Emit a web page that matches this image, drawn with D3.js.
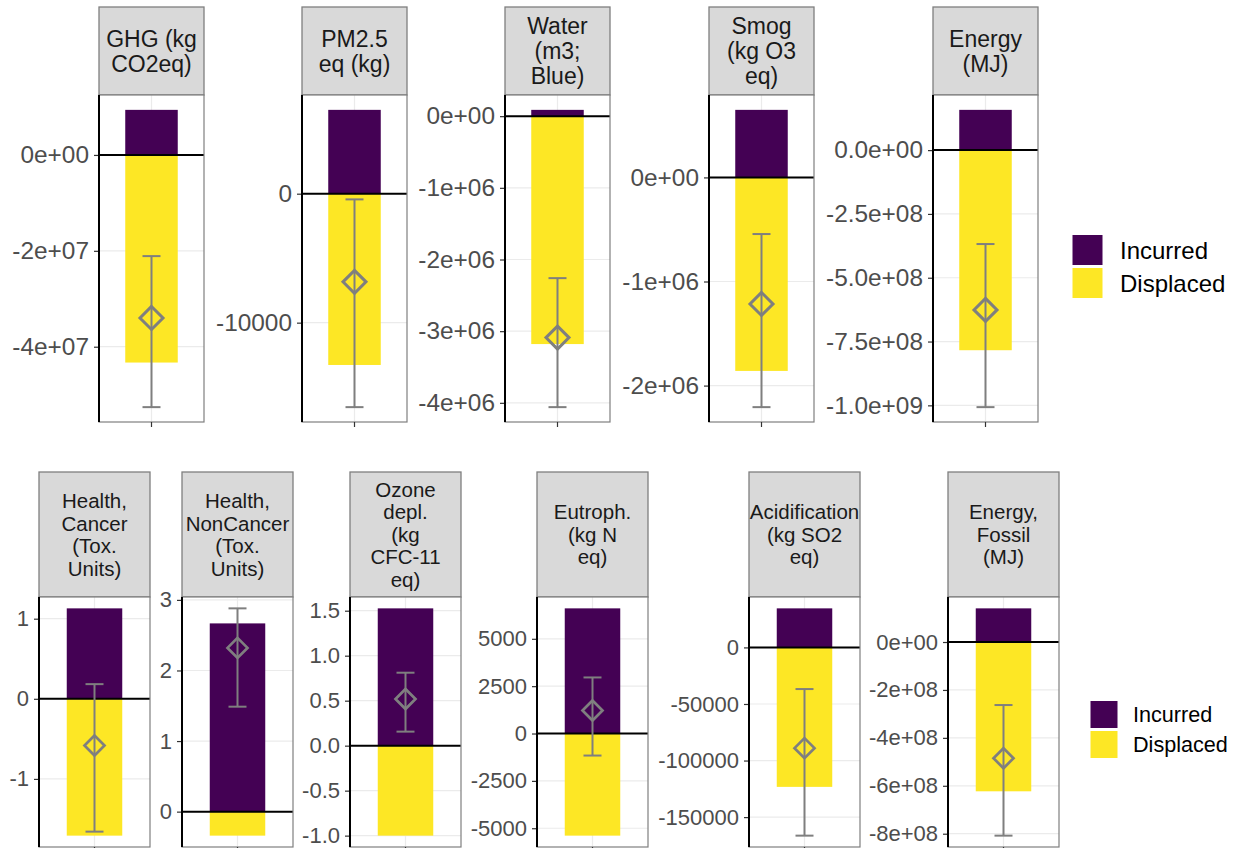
<!DOCTYPE html>
<html>
<head>
<meta charset="utf-8">
<script src="https://cdn.jsdelivr.net/npm/d3@7"></script>
<style>
  html, body { margin: 0; padding: 0; background: #fff; }
  svg { display: block; font-family: "Liberation Sans", Arial, sans-serif; }
</style>
</head>
<body>
<svg id="chart" width="1239" height="848"></svg>
<script>
// ---------------- DATA ----------------
const topCategories = ["GHG (kg\nCO2eq)", "PM2.5\neq (kg)", "Water\n(m3;\nBlue)", "Smog\n(kg O3\neq)", "Energy\n(MJ)"];
const topIncurred  = [9.4e6, 6500, 8.8e4, 6.49e5, 1.577e8];
const topDisplaced = [-4.33e7, -13280, -3.18e6, -1.859e6, -7.84e8];
const topNet       = [-3.40e7, -6836, -3.09e6, -1.216e6, -6.26e8];
const topErrLow    = [-5.26e7, -16550, -4.06e6, -2.207e6, -1.007e9];
const topErrHigh   = [-2.11e7, -441, -2.26e6, -5.44e5, -3.68e8];
const topTickValues = [
  [0, -2e7, -4e7],
  [0, -10000],
  [0, -1e6, -2e6, -3e6, -4e6],
  [0, -1e6, -2e6],
  [0, -2.5e8, -5e8, -7.5e8, -1e9]
];
const topTickLabels = [
  ["0e+00", "-2e+07", "-4e+07"],
  ["0", "-10000"],
  ["0e+00", "-1e+06", "-2e+06", "-3e+06", "-4e+06"],
  ["0e+00", "-1e+06", "-2e+06"],
  ["0.0e+00", "-2.5e+08", "-5.0e+08", "-7.5e+08", "-1.0e+09"]
];

const bottomCategories = ["Health,\nCancer\n(Tox.\nUnits)", "Health,\nNonCancer\n(Tox.\nUnits)", "Ozone\ndepl.\n(kg\nCFC-11\neq)", "Eutroph.\n(kg N\neq)", "Acidification\n(kg SO2\neq)", "Energy,\nFossil\n(MJ)"];
const bottomIncurred  = [1.129, 2.667, 1.526, 6607, 34513, 1.404e8];
const bottomDisplaced = [-1.708, -0.34, -1.0, -5391, -123270, -6.23e8];
const bottomNet       = [-0.583, 2.32, 0.519, 1216, -89030, -4.85e8];
const bottomErrLow    = [-1.658, 1.487, 0.156, -1163, -166370, -8.08e8];
const bottomErrHigh   = [0.183, 2.88, 0.811, 2960, -36810, -2.63e8];
const bottomTickValues = [
  [1, 0, -1],
  [3, 2, 1, 0],
  [1.5, 1, 0.5, 0, -0.5, -1],
  [5000, 2500, 0, -2500, -5000],
  [0, -50000, -100000, -150000],
  [0, -2e8, -4e8, -6e8, -8e8]
];
const bottomTickLabels = [
  ["1", "0", "-1"],
  ["3", "2", "1", "0"],
  ["1.5", "1.0", "0.5", "0.0", "-0.5", "-1.0"],
  ["5000", "2500", "0", "-2500", "-5000"],
  ["0", "-50000", "-100000", "-150000"],
  ["0e+00", "-2e+08", "-4e+08", "-6e+08", "-8e+08"]
];

const legendLabels = ["Incurred", "Displaced"];
const legendColors = ["#440154", "#FDE725"];

// ---------------- LAYOUT ----------------
const svg = d3.select("#chart");
const color = d3.scaleOrdinal().domain(legendLabels).range(legendColors);

const rows = [
  {
    cats: topCategories, inc: topIncurred, dis: topDisplaced, net: topNet, lo: topErrLow, hi: topErrHigh,
    ticks: topTickValues, labels: topTickLabels,
    xs: [99, 302, 505, 709, 933], w: 105,
    stripTop: 7, panelTop: 95, panelBottom: 422,
    stripFont: 23, lineH: 25, tickFont: 24.4, capW: 18, diamond: 11.5, diamondStroke: 3,
    legend: { x: 1072, y: 234.5, key: 31, font: 24, tx: 1120 }
  },
  {
    cats: bottomCategories, inc: bottomIncurred, dis: bottomDisplaced, net: bottomNet, lo: bottomErrLow, hi: bottomErrHigh,
    ticks: bottomTickValues, labels: bottomTickLabels,
    xs: [39, 182, 350, 537, 749, 948], w: 111,
    stripTop: 472, panelTop: 597, panelBottom: 847,
    stripFont: 20.5, lineH: 22.5, tickFont: 22, capW: 18, diamond: 10, diamondStroke: 2.7,
    legend: { x: 1090, y: 700.5, key: 28, font: 21.6, tx: 1133 }
  }
];

rows.forEach(row => {
  row.cats.forEach((cat, i) => {
    const x0 = row.xs[i], w = row.w;
    const g = svg.append("g");

    const dmax = Math.max(row.inc[i], row.hi[i], 0);
    const dmin = Math.min(row.dis[i], row.lo[i], 0);
    const pad = (dmax - dmin) * 0.05;
    const y = d3.scaleLinear().domain([dmin - pad, dmax + pad]).range([row.panelBottom, row.panelTop]);
    const x = d3.scaleBand().domain([cat]).range([x0, x0 + w]).paddingInner(0).paddingOuter(0.5);
    const cx = x(cat) + x.bandwidth() / 2;

    // strip
    g.append("rect")
      .attr("x", x0).attr("y", row.stripTop)
      .attr("width", w).attr("height", row.panelTop - row.stripTop)
      .attr("fill", "#d9d9d9").attr("stroke", "#7f7f7f").attr("stroke-width", 1.3);
    const lines = cat.split("\n");
    const cy = (row.stripTop + row.panelTop) / 2;
    g.append("text")
      .attr("text-anchor", "middle")
      .attr("font-size", row.stripFont)
      .attr("fill", "#1a1a1a")
      .selectAll("tspan").data(lines).join("tspan")
      .attr("x", x0 + w / 2)
      .attr("y", (d, k) => cy + (k - (lines.length - 1) / 2) * row.lineH + row.stripFont * 0.36)
      .text(d => d);

    // panel background
    g.append("rect").attr("x", x0).attr("y", row.panelTop)
      .attr("width", w).attr("height", row.panelBottom - row.panelTop).attr("fill", "#fff");

    // grid
    g.append("g").selectAll("line").data(row.ticks[i]).join("line")
      .attr("x1", x0).attr("x2", x0 + w)
      .attr("y1", d => y(d)).attr("y2", d => y(d))
      .attr("stroke", "#ebebeb").attr("stroke-width", 1.2);
    g.append("line").attr("x1", cx).attr("x2", cx)
      .attr("y1", row.panelTop).attr("y2", row.panelBottom)
      .attr("stroke", "#ebebeb").attr("stroke-width", 1.2);

    // bars
    const bars = [
      { k: "Incurred", v: row.inc[i] },
      { k: "Displaced", v: row.dis[i] }
    ];
    g.append("g").selectAll("rect").data(bars).join("rect")
      .attr("x", x(cat)).attr("width", x.bandwidth())
      .attr("y", d => y(Math.max(0, d.v)))
      .attr("height", d => Math.abs(y(d.v) - y(0)))
      .attr("fill", d => color(d.k));

    // zero line
    g.append("line").attr("x1", x0).attr("x2", x0 + w)
      .attr("y1", y(0)).attr("y2", y(0))
      .attr("stroke", "#000").attr("stroke-width", 2);

    // error bar
    const eg = g.append("g").attr("stroke", "#7f7f7f").attr("stroke-width", 2).attr("fill", "none");
    eg.append("line").attr("x1", cx).attr("x2", cx).attr("y1", y(row.lo[i])).attr("y2", y(row.hi[i]));
    [row.lo[i], row.hi[i]].forEach(v => {
      eg.append("line").attr("x1", cx - row.capW / 2).attr("x2", cx + row.capW / 2)
        .attr("y1", y(v)).attr("y2", y(v));
    });

    // diamond
    const dy = y(row.net[i]), r = row.diamond;
    g.append("path")
      .attr("d", `M${cx},${dy - r}L${cx + r},${dy}L${cx},${dy + r}L${cx - r},${dy}Z`)
      .attr("fill", "none").attr("stroke", "#7f7f7f").attr("stroke-width", row.diamondStroke);

    // panel border
    g.append("rect").attr("x", x0).attr("y", row.panelTop)
      .attr("width", w).attr("height", row.panelBottom - row.panelTop)
      .attr("fill", "none").attr("stroke", "#7f7f7f").attr("stroke-width", 1.2);

    // y axis
    const ax = g.append("g").attr("transform", `translate(${x0},0)`)
      .call(d3.axisLeft(y).tickValues(row.ticks[i])
        .tickFormat((d, k) => row.labels[i][k]).tickSize(5).tickPadding(5));
    ax.select(".domain").remove();
    ax.selectAll(".tick line").attr("stroke", "#333").attr("stroke-width", 1.2);
    ax.selectAll(".tick text").attr("fill", "#4d4d4d").attr("font-size", row.tickFont)
      .attr("font-family", "'Liberation Sans', Arial, sans-serif");
    g.append("line").attr("x1", x0).attr("x2", x0)
      .attr("y1", row.panelTop).attr("y2", row.panelBottom)
      .attr("stroke", "#000").attr("stroke-width", 2);

    // x axis tick (no label)
    const xa = g.append("g").attr("transform", `translate(0,${row.panelBottom})`)
      .call(d3.axisBottom(x).tickSize(5).tickFormat(""));
    xa.select(".domain").remove();
    xa.selectAll(".tick line").attr("stroke", "#333").attr("stroke-width", 1.2);
  });

  // legend
  const L = row.legend;
  const lg = svg.append("g");
  lg.selectAll("rect").data(legendLabels).join("rect")
    .attr("x", L.x).attr("y", (d, k) => L.y + k * (L.key + 2))
    .attr("width", L.key).attr("height", L.key)
    .attr("fill", d => color(d)).attr("stroke", "#fff").attr("stroke-width", 1);
  lg.selectAll("text").data(legendLabels).join("text")
    .attr("x", L.tx).attr("y", (d, k) => L.y + k * (L.key + 2) + L.key / 2 + L.font * 0.36)
    .attr("font-size", L.font).attr("fill", "#000")
    .text(d => d);
});
</script>
</body>
</html>
